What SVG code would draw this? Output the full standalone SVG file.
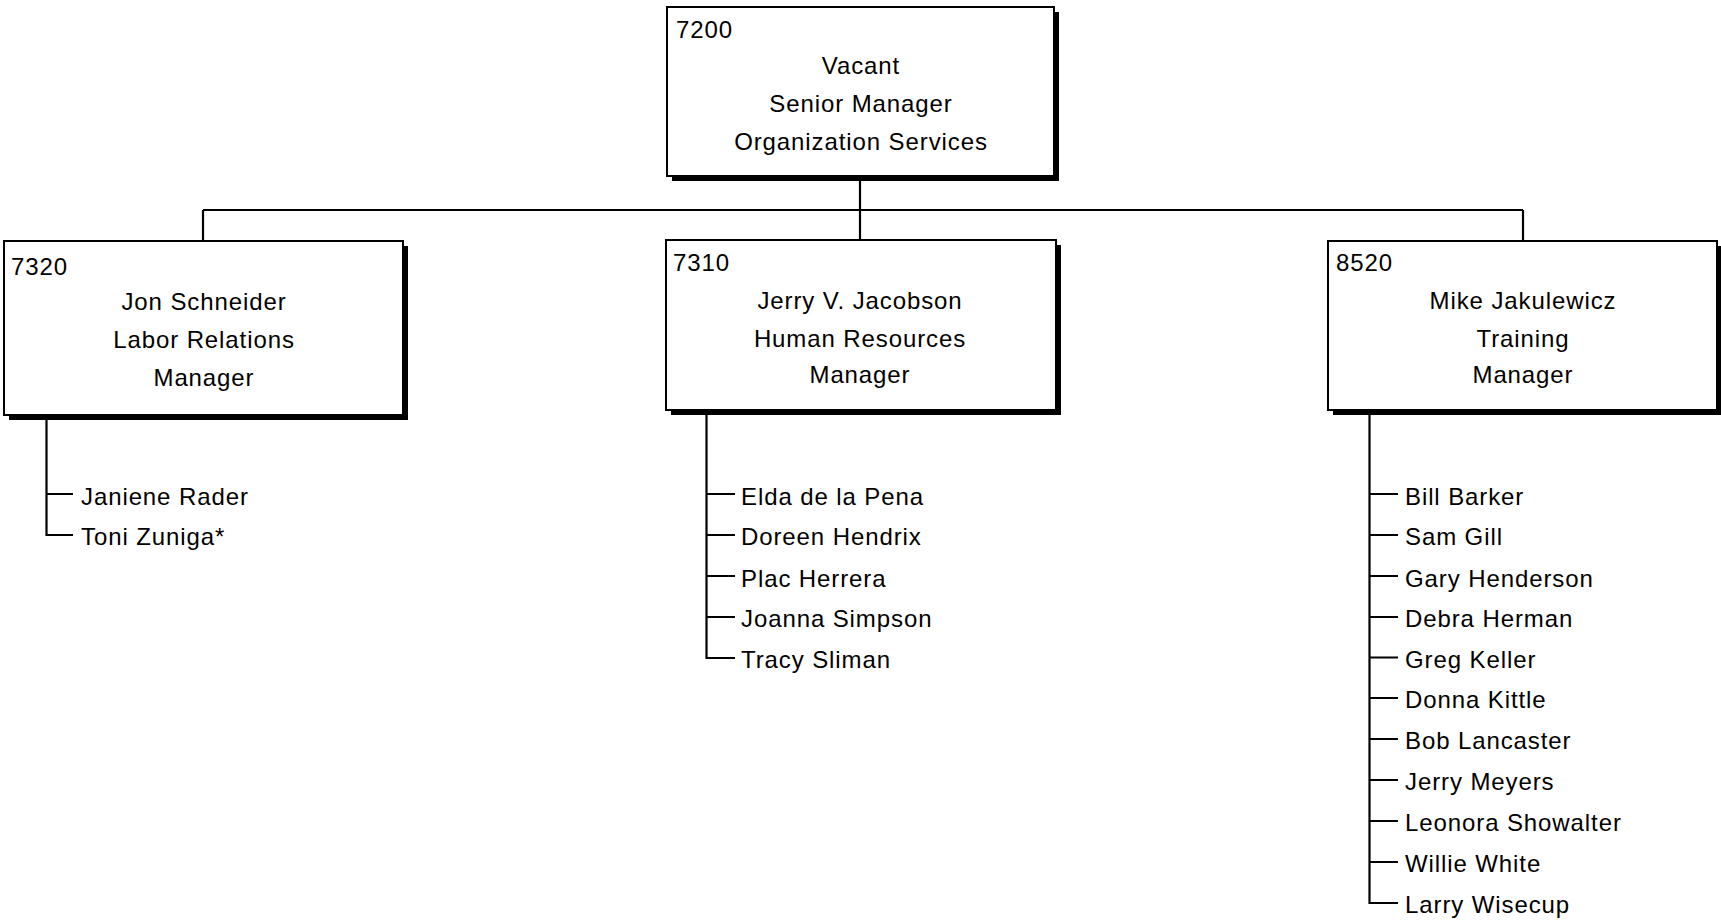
<svg xmlns="http://www.w3.org/2000/svg" width="1721" height="924" viewBox="0 0 1721 924">
<style>
text{font-family:"Liberation Sans",Arial,sans-serif;font-size:24px;fill:#000;letter-spacing:0.9px}
.c{text-anchor:middle}
.box{fill:#fff;stroke:#000;stroke-width:2}
.sh{fill:#000}
.ln{stroke:#000;stroke-width:2.2;fill:none}
</style>
<rect width="1721" height="924" fill="#fff"/>
<g id="connectors">
<path class="ln" d="M860,176 V210 M203,210 H1523 M203,210 V241 M860,210 V240 M1523,210 V241"/>
<path class="ln" d="M46.5,415 V535 H73 M46.5,494 H73"/>
<path class="ln" d="M706.5,410 V658 H735 M706.5,494 H735 M706.5,535 H735 M706.5,576 H735 M706.5,617 H735"/>
<path class="ln" d="M1369.5,410 V903 H1398 M1369.5,494 H1398 M1369.5,535 H1398 M1369.5,576 H1398 M1369.5,617 H1398 M1369.5,657.5 H1398 M1369.5,698 H1398 M1369.5,739 H1398 M1369.5,780 H1398 M1369.5,821 H1398 M1369.5,862 H1398"/>
</g>
<g id="n7200">
<rect class="sh" x="672" y="12" width="387" height="169"/>
<rect class="box" x="667" y="7" width="387" height="169"/>
<text x="676" y="38">7200</text>
<text class="c" x="861" y="74">Vacant</text>
<text class="c" x="861" y="112">Senior Manager</text>
<text class="c" x="861" y="150">Organization Services</text>
</g>
<g id="n7320">
<rect class="sh" x="9" y="246" width="399" height="174"/>
<rect class="box" x="4" y="241" width="399" height="174"/>
<text x="11" y="275">7320</text>
<text class="c" x="204" y="310">Jon Schneider</text>
<text class="c" x="204" y="348">Labor Relations</text>
<text class="c" x="204" y="386">Manager</text>
</g>
<g id="n7310">
<rect class="sh" x="671" y="245" width="390" height="170"/>
<rect class="box" x="666" y="240" width="390" height="170"/>
<text x="673" y="271">7310</text>
<text class="c" x="860" y="309">Jerry V. Jacobson</text>
<text class="c" x="860" y="347">Human Resources</text>
<text class="c" x="860" y="383">Manager</text>
</g>
<g id="n8520">
<rect class="sh" x="1333" y="246" width="389" height="169"/>
<rect class="box" x="1328" y="241" width="389" height="169"/>
<text x="1336" y="271">8520</text>
<text class="c" x="1523" y="309">Mike Jakulewicz</text>
<text class="c" x="1523" y="347">Training</text>
<text class="c" x="1523" y="383">Manager</text>
</g>
<g id="staff7320">
<text x="81" y="505">Janiene Rader</text>
<text x="81" y="545">Toni Zuniga*</text>
</g>
<g id="staff7310">
<text x="741" y="505">Elda de la Pena</text>
<text x="741" y="545">Doreen Hendrix</text>
<text x="741" y="587">Plac Herrera</text>
<text x="741" y="627">Joanna Simpson</text>
<text x="741" y="668">Tracy Sliman</text>
</g>
<g id="staff8520">
<text x="1405" y="505">Bill Barker</text>
<text x="1405" y="545">Sam Gill</text>
<text x="1405" y="587">Gary Henderson</text>
<text x="1405" y="627">Debra Herman</text>
<text x="1405" y="668">Greg Keller</text>
<text x="1405" y="708">Donna Kittle</text>
<text x="1405" y="749">Bob Lancaster</text>
<text x="1405" y="790">Jerry Meyers</text>
<text x="1405" y="831">Leonora Showalter</text>
<text x="1405" y="872">Willie White</text>
<text x="1405" y="913">Larry Wisecup</text>
</g>
</svg>
